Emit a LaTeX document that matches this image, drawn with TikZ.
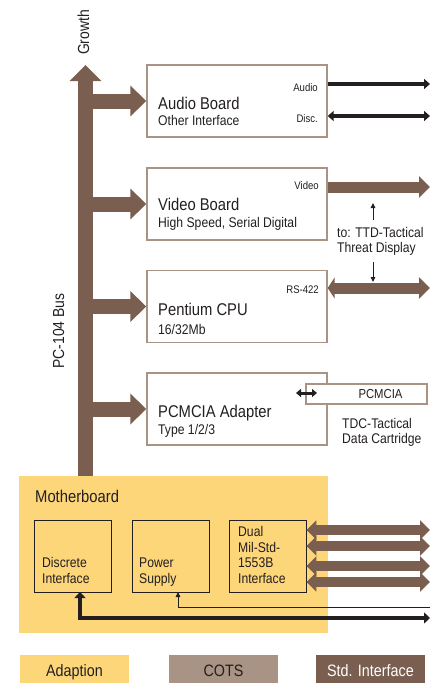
\documentclass[tikz,border=0pt]{standalone}
\usepackage{fontspec}
\setmainfont{Liberation Sans}[FakeStretch=0.87]
\usepackage{tikz}
\usetikzlibrary{positioning,arrows.meta}
\definecolor{adapt}{HTML}{FDD67A}
\definecolor{cots}{HTML}{A89384}
\definecolor{stdif}{HTML}{7A5E4F}
\definecolor{ink}{HTML}{231F20}

\begin{document}
\begin{tikzpicture}[x=1pt,y=-1pt,text=ink,
  board/.style={draw=cots,line width=1.4pt,fill=white,minimum width=180pt,minimum height=72pt,inner sep=0pt},
  unit/.style={draw=ink,line width=0.9pt,minimum width=77pt,minimum height=72pt,inner sep=0pt},
  txt/.style={inner sep=0pt,anchor=base west},
  lbl/.style={inner sep=0pt,anchor=base east,font=\fontsize{11}{13}\selectfont},
  big/.style={font=\fontsize{17}{19}\selectfont},
  small/.style={font=\fontsize{14}{16}\selectfont},
  multi/.style={inner sep=0pt,anchor=base west,align=left,font=\fontsize{14}{15.5}\selectfont},
  bus/.style={draw=stdif,line width=15pt,-{Triangle[length=16pt,width=31pt]}},
  branch/.style={draw=stdif,line width=15pt,-{Triangle[length=16pt,width=30pt]}},
  fat/.style={draw=stdif,line width=11pt,-{Triangle[length=11pt,width=21pt]}},
  fatboth/.style={draw=stdif,line width=10pt,{Triangle[length=10pt,width=19pt]}-{Triangle[length=10pt,width=19pt]}},
  blk/.style={draw=ink,line width=4pt,-{Triangle[length=6pt,width=10pt]}},
  wire/.style={draw=ink,line width=0.9pt,-{Triangle[length=5pt,width=4.5pt]}},
  legend/.style={minimum width=109pt,minimum height=28pt,inner sep=0pt,text height=14pt,text depth=0pt,font=\fontsize{16.5}{18}\selectfont}]
  \useasboundingbox (0,0) rectangle (431,683);

  % motherboard and its units
  \node[fill=adapt,minimum width=309pt,minimum height=157pt,inner sep=0pt] (mb) at (173.5,554.5) {};
  \node[txt,big] (mbt) at (35,502) {Motherboard};
  \node[unit] (disc) at (72.5,556) {};
  \node[unit] (pwr) at (170.5,556) {};
  \node[unit] (dual) at (267.5,556) {};
  \node[multi] (disct) at (42,583) {Discrete\\Interface};
  \node[multi] (pwrt) at (139,583) {Power\\Supply};
  \node[multi] (dualt) at (238,583) {Dual\\Mil-Std-\\1553B\\Interface};

  % PC-104 bus
  \coordinate (busbot) at (85.5,476);
  \coordinate (bustop) at (85.5,65);
  \draw[bus] (busbot) -- (bustop);
  \node[rotate=90,font=\fontsize{16}{18}\selectfont] (growth) at (83.5,32.5) {Growth};
  \node[rotate=90,font=\fontsize{16}{18}\selectfont] (pcbus) at (58.5,331) {PC-104 Bus};

  % boards
  \node[board] (aud) at (237,101) {};
  \node[board] (vid) at (237,204) {};
  \node[board] (cpu) at (237,306.5) {};
  \node[board] (pcm) at (237,409) {};
  \node[txt,big] (audt) at (158,109) {Audio Board};
  \node[txt,small] (auds) at (158,125) {Other Interface};
  \node[txt,big] (vidt) at (158,210) {Video Board};
  \node[txt,small] (vids) at (158,227) {High Speed, Serial Digital};
  \node[txt,big] (cput) at (158,315) {Pentium CPU};
  \node[txt,small] (cpus) at (158,334) {16/32Mb};
  \node[txt,big] (pcmt) at (158,417) {PCMCIA Adapter};
  \node[txt,small] (pcms) at (158,434) {Type 1/2/3};
  \node[lbl] (audl) at (318,91) {Audio};
  \node[lbl] (discl) at (318,122) {Disc.};
  \node[lbl] (vidl) at (319,189) {Video};
  \node[lbl] (rsl) at (319,293) {RS-422};

  \draw[branch] (aud.west -| bustop) -- (aud.west);
  \draw[branch] (vid.west -| bustop) -- (vid.west);
  \draw[branch] (cpu.west -| bustop) -- (cpu.west);
  \draw[branch] (pcm.west -| bustop) -- (pcm.west);

  % outputs of the boards
  \coordinate (audout) at (430,84);
  \coordinate (discout) at (430,116);
  \coordinate (vidout) at (430,187);
  \coordinate (rsout) at (430,288);
  \draw[blk] (audout -| aud.east) -- (audout);
  \draw[blk,{Triangle[length=6pt,width=10pt]}-{Triangle[length=6pt,width=10pt]}] (discout -| aud.east) -- (discout);
  \draw[fat] (vidout -| vid.east) -- (vidout);
  \draw[fat,{Triangle[length=7pt,width=21pt]}-{Triangle[length=11pt,width=21pt]}] (rsout -| cpu.east) -- (rsout);

  \node[txt,small] (ttd) at (337,237) {to: TTD-Tactical};
  \node[txt,small] (ttd2) at (337,252) {Threat Display};
  \coordinate (ttdup) at (373,203);
  \coordinate (ttddn) at (373,282);
  \draw[wire] (ttdup |- 0,220) -- (ttdup);
  \draw[wire] (ttddn |- 0,262) -- (ttddn);

  \node[draw=cots,line width=1.2pt,fill=white,minimum width=121pt,minimum height=20pt,inner sep=0pt,font=\fontsize{13}{15}\selectfont] (card) at (366.5,394) {\hspace*{28pt}PCMCIA};
  \coordinate (cardl) at (296,393);
  \coordinate (cardr) at (317,393);
  \draw[draw=ink,line width=3pt,{Triangle[length=5pt,width=8pt]}-{Triangle[length=5pt,width=8pt]}] (cardl) -- (cardr);
  \node[txt,small] (tdc) at (342,428) {TDC-Tactical};
  \node[txt,small] (tdc2) at (342,443) {Data Cartridge};

  % 1553B buses
  \coordinate (d1) at (430,530);
  \coordinate (d2) at (430,546);
  \coordinate (d3) at (430,566);
  \coordinate (d4) at (430,582);
  \draw[fatboth] (d1 -| dual.east) -- (d1);
  \draw[fatboth] (d2 -| dual.east) -- (d2);
  \draw[fatboth] (d3 -| dual.east) -- (d3);
  \draw[fatboth] (d4 -| dual.east) -- (d4);

  % power and discrete lines
  \coordinate (pwrin) at (178,592);
  \coordinate (pwrend) at (430,607);
  \draw[wire] (pwrend) -| (pwrin);
  \coordinate (discin) at (80,592);
  \coordinate (discend) at (430,618);
  \draw[blk,line width=4.5pt,{Triangle[length=6pt,width=11pt]}-{Triangle[length=6pt,width=11pt]}] (discin) |- (discend);

  % legend
  \node[legend,fill=adapt] (lga) at (74.5,669) {Adaption};
  \node[legend,fill=cots] (lgc) at (223.5,669) {COTS};
  \node[legend,fill=stdif,text=white] (lgs) at (370.5,669) {Std. Interface};
\end{tikzpicture}
\end{document}
